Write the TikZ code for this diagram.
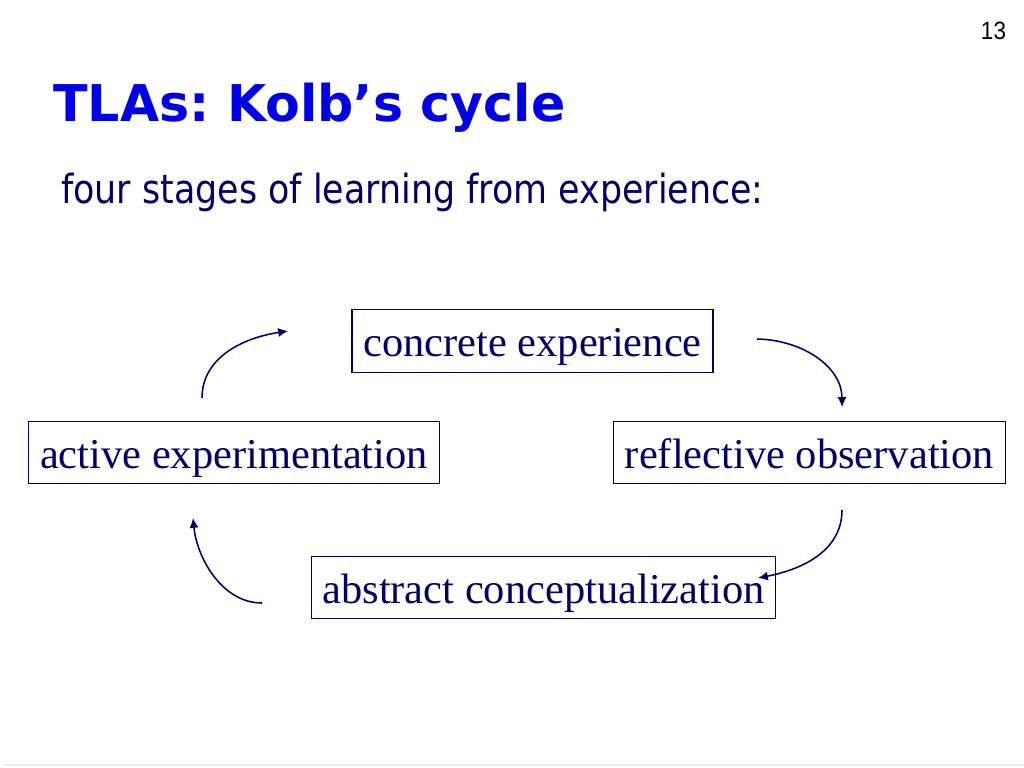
\documentclass[tikz,border=0pt]{standalone}
\usepackage{fontspec}
\setmainfont{Liberation Serif}
\newfontfamily\titlefont{DejaVu Sans}
\newfontfamily\subfont[FakeStretch=0.87]{DejaVu Sans}
\newfontfamily\numfont[FakeStretch=0.9]{Liberation Sans}
\usepackage{tikz}
\usetikzlibrary{arrows.meta}
\definecolor{kolbnavy}{HTML}{000066}
\definecolor{kolbblue}{HTML}{0000E6}
\tikzset{>={Latex[length=7pt, width=6.5pt]}}
\tikzset{
  stage/.style = {draw = kolbnavy, line width = 0.9pt, text = kolbnavy, inner xsep = 8pt,
    minimum height = 1.56cm, text height = 29pt, text depth = 6.5pt,
    font = \fontsize{30.2}{36}\selectfont},
  cyc/.style = {->, draw = kolbnavy, line width = 1.1pt}
}

\begin{document}
\begin{tikzpicture}[x = 0.025cm, y = -0.025cm]

\useasboundingbox (0,0) rectangle (1024,768);
\draw[gray!15, line width = 0.8pt] (4,765) -- (1024,765);

\node[anchor = base east, font = \numfont\fontsize{17.8}{20}\selectfont] (page) at (1011,40) {13};
\node[anchor = base west, inner sep = 0pt, text = kolbblue, font = \titlefont\bfseries\fontsize{36}{40}\selectfont] (title) at (53,122) {TLAs:\hspace{-0.12em} Kolb’s cycle};
\node[anchor = base west, inner sep = 0pt, text = kolbnavy, font = \subfont\fontsize{28.5}{32}\selectfont] (sub) at (61,203) {four stages of learning from experience:};

% the four stages
\node[stage] (ce) at (532.5,341) {concrete experience};
\node[stage] (ro) at (809.5,452.5) {reflective observation};
\node[stage] (ac) at (543.5,587.5) {abstract conceptualization};
\node[stage] (ae) at (234,452.5) {active experimentation};

% arrow ends
\coordinate (ae-out) at (202,398);
\coordinate (ce-in) at (288,331);
\coordinate (ce-out) at (757,339);
\coordinate (ro-in) at (842,407);
\coordinate (ro-out) at (842,510);
\coordinate (ac-in) at (758,578);
\coordinate (ac-out) at (262,603);
\coordinate (ae-in) at (193,518);

\draw[cyc] (ae-out) .. controls +(0,-40) and +(-46,7) .. (ce-in);
\draw[cyc] (ce-out) .. controls +(46,1) and +(0,-40) .. (ro-in);
\draw[cyc] (ro-out) .. controls +(0,40) and +(46,-9) .. (ac-in);
\draw[cyc] (ac-out) .. controls +(-40,0) and +(4,40) .. (ae-in);

\end{tikzpicture}
\end{document}
